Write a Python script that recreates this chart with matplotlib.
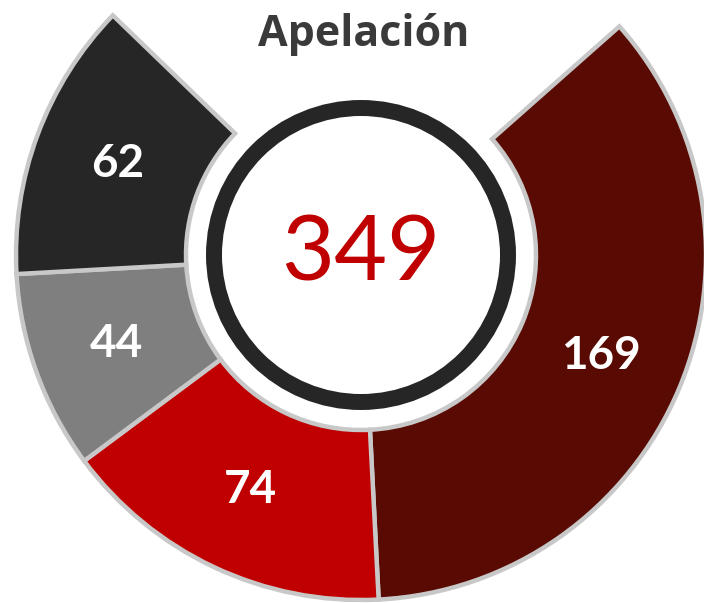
import matplotlib
matplotlib.use("Agg")
import matplotlib.pyplot as plt
from matplotlib.patches import Circle
import numpy as np

title = "Apelación"
categories = ["Cat 1", "Cat 2", "Cat 3", "Cat 4"]
values = [169, 74, 44, 62]
colors = ["#590a02", "#c00000", "#7f7f7f", "#262626"]
total = sum(values)

W, H = 704, 603
fig = plt.figure(figsize=(W / 100, H / 100), dpi=100)
ax = fig.add_axes([0, 0, 1, 1])

cx, cy = 361, H - 255
r_out = 345
r_in = 175
span = 265.5      # degrees covered by the arc
start = 41.5      # start angle (degrees), going clockwise

fracs = [v / total * span / 360 for v in values]
wedges, _ = ax.pie(fracs, normalize=False, startangle=start, counterclock=False,
                   colors=colors, center=(cx, cy), radius=r_out, frame=True,
                   wedgeprops=dict(width=r_out - r_in, edgecolor="#c8c8c8",
                                   linewidth=3.2))

# labels at wedge mid angles
for w, v in zip(wedges, values):
    mid = np.deg2rad((w.theta1 + w.theta2) / 2)
    rr = (r_out + r_in) / 2
    ax.text(cx + rr * np.cos(mid), cy + rr * np.sin(mid), str(v),
            ha="center", va="center", color="white", fontsize=33,
            fontweight="bold", family=["Lato", "DejaVu Sans"])

# inner ring
ring = Circle((cx, cy), 147, facecolor="white", edgecolor="#262626",
              linewidth=11.5, zorder=5)
ax.add_patch(ring)
ax.text(cx, cy, str(total), ha="center", va="center", color="#c00000",
        fontsize=66, family=["Lato", "DejaVu Sans"], zorder=6)

ax.text(364, H - 34, title, ha="center", va="center", color="#3a3a3a",
        fontsize=31, fontweight="bold", family=["Open Sans", "DejaVu Sans"])

ax.set_xlim(0, W)
ax.set_ylim(0, H)
ax.set_aspect("equal")
ax.axis("off")
fig.savefig("out.png", dpi=100)
